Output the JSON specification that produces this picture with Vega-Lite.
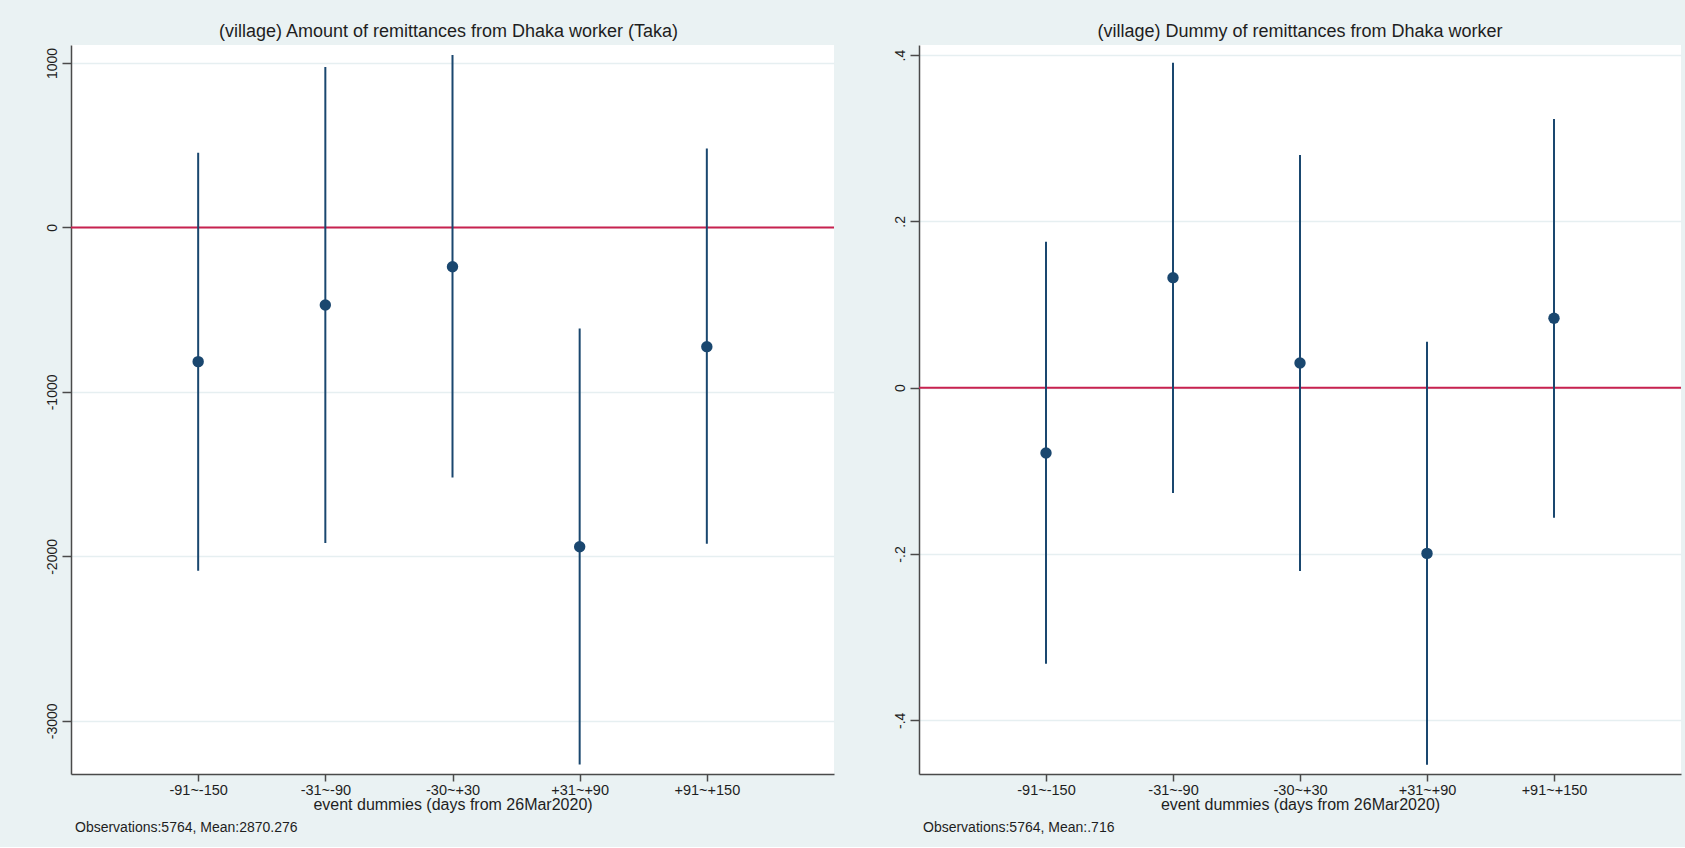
{
  "$schema": "https://vega.github.io/schema/vega-lite/v6.json",
  "background": "#EAF2F3",
  "padding": {"left": 45, "top": 23, "right": 4, "bottom": 12},
  "spacing": 58,
  "config": {
    "font": "Liberation Sans",
    "view": {"fill": "white", "stroke": null},
    "axis": {
      "labelFont": "Liberation Sans", "labelFontSize": 14.5, "labelColor": "#1e1e1e",
      "titleFont": "Liberation Sans", "titleFontSize": 16, "titleFontWeight": "normal", "titleColor": "#1e1e1e",
      "domainColor": "#4a4a4a", "domainWidth": 1.5, "tickColor": "#4a4a4a", "tickWidth": 1.5
    },
    "title": {"font": "Liberation Sans", "fontSize": 18, "fontWeight": "normal", "color": "#1e1e1e"}
  },
  "datasets": {
    "amount": [
      {"cat": "-91~-150", "est": -816, "lo": -2087, "hi": 454},
      {"cat": "-31~-90", "est": -472, "lo": -1919, "hi": 975},
      {"cat": "-30~+30", "est": -239, "lo": -1520, "hi": 1048},
      {"cat": "+31~+90", "est": -1941, "lo": -3266, "hi": -614},
      {"cat": "+91~+150", "est": -725, "lo": -1923, "hi": 480}
    ],
    "dummy": [
      {"cat": "-91~-150", "est": -0.0785, "lo": -0.332, "hi": 0.1756},
      {"cat": "-31~-90", "est": 0.1323, "lo": -0.1268, "hi": 0.3909},
      {"cat": "-30~+30", "est": 0.0297, "lo": -0.2205, "hi": 0.2798},
      {"cat": "+31~+90", "est": -0.1993, "lo": -0.4534, "hi": 0.0553},
      {"cat": "+91~+150", "est": 0.0834, "lo": -0.1563, "hi": 0.3231}
    ],
    "zero": [{"z": 0}]
  },
  "hconcat": [
    {
      "title": {"text": "Observations:5764, Mean:2870.276", "orient": "bottom", "anchor": "start", "fontSize": 14, "offset": 8, "dx": 30},
      "vconcat": [
        {
          "width": 763, "height": 729,
          "title": {"text": "(village) Amount of remittances from Dhaka worker (Taka)", "offset": 4, "dx": -4},
          "layer": [
            {
              "data": {"name": "zero"},
              "mark": {"type": "rule", "color": "#C8224F", "strokeWidth": 2},
              "encoding": {"y": {"field": "z", "type": "quantitative", "title": null}}
            },
            {
              "data": {"name": "amount"},
              "mark": {"type": "rule", "color": "#1A476F", "strokeWidth": 2},
              "encoding": {
                "x": {"field": "cat", "type": "ordinal", "sort": null, "scale": {"type": "point", "padding": 1},
                  "axis": {"title": "event dummies (days from 26Mar2020)", "labelAngle": 0, "tickSize": 7, "labelPadding": 2, "titlePadding": 0, "grid": false}},
                "y": {"field": "lo", "type": "quantitative", "title": null,
                  "scale": {"domain": [-3323, 1109], "nice": false, "zero": false},
                  "axis": {"values": [-3000, -2000, -1000, 0, 1000], "labelAngle": -90, "labelFontSize": 14, "tickSize": 9, "labelPadding": 3, "grid": true, "gridColor": "#E6EFF1", "gridWidth": 1.5,
                    "labelExpr": "datum.value < 0 ? '-' + abs(datum.value) : '' + datum.value"}},
                "y2": {"field": "hi"}
              }
            },
            {
              "data": {"name": "amount"},
              "mark": {"type": "point", "shape": "circle", "filled": true, "opacity": 1, "size": 130, "color": "#1A476F"},
              "encoding": {
                "x": {"field": "cat", "type": "ordinal", "sort": null},
                "y": {"field": "est", "type": "quantitative", "title": null}
              }
            }
          ]
        }
      ]
    },
    {
      "title": {"text": "Observations:5764, Mean:.716", "orient": "bottom", "anchor": "start", "fontSize": 14, "offset": 8, "dx": 30},
      "vconcat": [
        {
          "width": 762, "height": 729,
          "title": {"text": "(village) Dummy of remittances from Dhaka worker", "offset": 4},
          "layer": [
            {
              "data": {"name": "zero"},
              "mark": {"type": "rule", "color": "#C8224F", "strokeWidth": 2},
              "encoding": {"y": {"field": "z", "type": "quantitative", "title": null}}
            },
            {
              "data": {"name": "dummy"},
              "mark": {"type": "rule", "color": "#1A476F", "strokeWidth": 2},
              "encoding": {
                "x": {"field": "cat", "type": "ordinal", "sort": null, "scale": {"type": "point", "padding": 1},
                  "axis": {"title": "event dummies (days from 26Mar2020)", "labelAngle": 0, "tickSize": 7, "labelPadding": 2, "titlePadding": 0, "grid": false}},
                "y": {"field": "lo", "type": "quantitative", "title": null,
                  "scale": {"domain": [-0.4646, 0.4121], "nice": false, "zero": false},
                  "axis": {"values": [-0.4, -0.2, 0, 0.2, 0.4], "labelAngle": -90, "labelFontSize": 14, "tickSize": 9, "labelPadding": 3, "grid": true, "gridColor": "#E6EFF1", "gridWidth": 1.5,
                    "labelExpr": "datum.value == 0 ? '0' : (datum.value < 0 ? '-' : '') + '.' + round(abs(datum.value) * 10)"}},
                "y2": {"field": "hi"}
              }
            },
            {
              "data": {"name": "dummy"},
              "mark": {"type": "point", "shape": "circle", "filled": true, "opacity": 1, "size": 130, "color": "#1A476F"},
              "encoding": {
                "x": {"field": "cat", "type": "ordinal", "sort": null},
                "y": {"field": "est", "type": "quantitative", "title": null}
              }
            }
          ]
        }
      ]
    }
  ]
}
